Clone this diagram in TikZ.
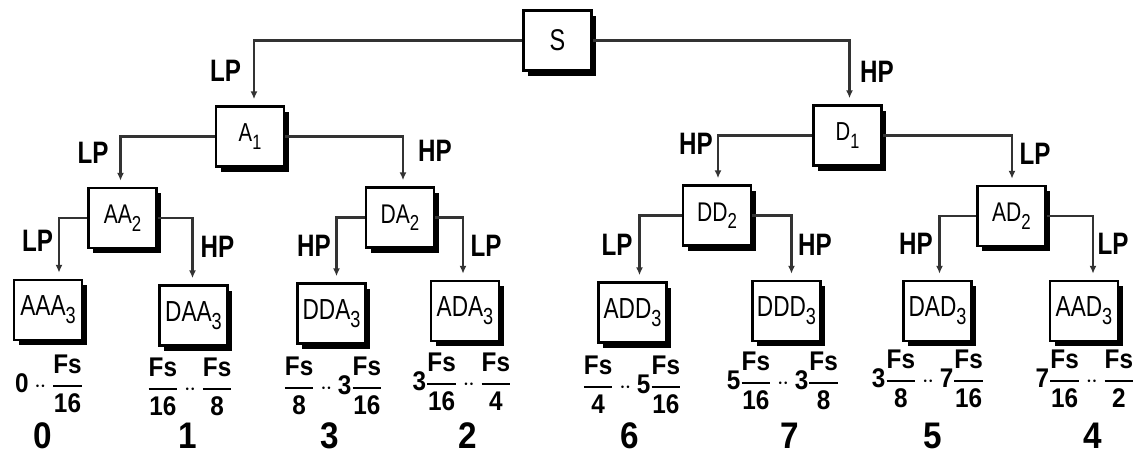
\documentclass[tikz,border=0pt]{standalone}
\usepackage{fontspec}
\usepackage{amsmath}
\usepackage{graphicx}
\setmainfont{Liberation Sans}[FakeStretch=0.78]
\newfontfamily\numfont{Liberation Sans}[FakeStretch=0.9]
\usetikzlibrary{arrows.meta,shadows}
\newcommand\fsf[1]{\genfrac{}{}{1.7pt}{0}{\text{Fs}\rule[-6pt]{0pt}{6pt}}{\text{#1}\rule{0pt}{21pt}}}
\newcommand\ddt{\mathbin{\cdot\mkern-1mu\cdot}}
\newcommand\tx[1]{\text{#1}}
\newcommand\sbs[1]{\raisebox{-0.28em}{\scalebox{0.8}{#1}}}
\begin{document}
\begin{tikzpicture}[x=1pt,y=-1pt,
  box/.style={draw=black,line width=2.5pt,fill=white,minimum width=68pt,minimum height=60pt,inner sep=0pt,
    drop shadow={shadow xshift=4.5pt,shadow yshift=-5pt,opacity=1,fill=black}},
  conn/.style={draw=black!80,line width=2.5pt,-{Latex[length=8pt,width=7pt]}},
  pl/.style={font=\bfseries\fontsize{31}{31}\selectfont},
  fr/.style={font=\numfont\bfseries\fontsize{27}{27}\selectfont,anchor=base,inner sep=0pt},
  num/.style={font=\numfont\bfseries\fontsize{37}{37}\selectfont},
  l0/.style={font=\fontsize{30}{30}\selectfont},
  l1/.style={font=\fontsize{26}{26}\selectfont},
  l2/.style={font=\fontsize{27}{27}\selectfont},
  l3/.style={font=\fontsize{29}{29}\selectfont}]
\useasboundingbox (0,0) rectangle (1133,456);

% boxes
\node[box,l0] (S)   at (557.5,40.5) {S};
\node[box,l1] (A1)  at (250,136.5) {A\sbs{1}};
\node[box,l1] (D1)  at (847.5,135.5) {D\sbs{1}};
\node[box,l2] (AA2) at (122.5,218) {AA\sbs{2}};
\node[box,l2] (DA2) at (400,217.5) {DA\sbs{2}};
\node[box,l2] (DD2) at (717,215.5) {DD\sbs{2}};
\node[box,l2] (AD2) at (1011.5,216) {AD\sbs{2}};
\node[box,l3] (AAA3) at (48,310) {AAA\sbs{3}};
\node[box,l3] (DAA3) at (193.5,315.5) {DAA\sbs{3}};
\node[box,l3] (DDA3) at (331.5,313.5) {DDA\sbs{3}};
\node[box,l3] (ADA3) at (465,311) {ADA\sbs{3}};
\node[box,l3] (ADD3) at (632.5,312.5) {ADD\sbs{3}};
\node[box,l3] (DDD3) at (786.5,311) {DDD\sbs{3}};
\node[box,l3] (DAD3) at (937.5,311) {DAD\sbs{3}};
\node[box,l3] (AAD3) at (1084,311) {AAD\sbs{3}};

% connectors
\draw[conn] (S.west) -| ([xshift=4pt,yshift=6pt]A1.north);
\draw[conn] (S.east) -| ([xshift=2pt,yshift=6pt]D1.north);
\draw[conn] (A1.west) -| ([xshift=-2pt,yshift=6pt]AA2.north);
\draw[conn] (A1.east) -| ([xshift=3pt,yshift=6pt]DA2.north);
\draw[conn] (D1.west) -| ([xshift=1pt,yshift=6pt]DD2.north);
\draw[conn] (D1.east) -| ([xshift=0.5pt,yshift=6pt]AD2.north);
\draw[conn] (AA2.west) -| ([xshift=11pt,yshift=6pt]AAA3.north);
\draw[conn] (AA2.east) -| ([xshift=-1pt,yshift=6pt]DAA3.north);
\draw[conn] (DA2.west) -| ([xshift=5pt,yshift=6pt]DDA3.north);
\draw[conn] (DA2.east) -| ([xshift=-2pt,yshift=6pt]ADA3.north);
\draw[conn] (DD2.west) -| ([xshift=7pt,yshift=6pt]ADD3.north);
\draw[conn] (DD2.east) -| ([xshift=5pt,yshift=6pt]DDD3.north);
\draw[conn] (AD2.west) -| ([xshift=2pt,yshift=6pt]DAD3.north);
\draw[conn] (AD2.east) -| ([xshift=9pt,yshift=6pt]AAD3.north);

% LP / HP labels
\node[pl] (t1) at (225.5,71) {LP};
\node[pl] (t2) at (877,72) {HP};
\node[pl] (t3) at (93,153) {LP};
\node[pl] (t4) at (435,151) {HP};
\node[pl] (t5) at (696,144) {HP};
\node[pl] (t6) at (1035,154) {LP};
\node[pl] (t7) at (37.5,241) {LP};
\node[pl] (t8) at (217.5,247) {HP};
\node[pl] (t9) at (314,246) {HP};
\node[pl] (t10) at (486,246) {LP};
\node[pl] (t11) at (617,245) {LP};
\node[pl] (t12) at (815,245) {HP};
\node[pl] (t13) at (916,244) {HP};
\node[pl] (t14) at (1113,244) {LP};

% frequency ranges (anchored on the baseline, bar about 7pt above it)
\node[fr] (f1) at (49,392) {$\tx{0}\ddt\fsf{16}$};
\node[fr] (f2) at (190,395) {$\fsf{16}\ddt\fsf{8}$};
\node[fr] (f3) at (333,394) {$\fsf{8}\ddt\tx{3}\fsf{16}$};
\node[fr] (f4) at (462,390) {$\tx{3}\fsf{16}\ddt\fsf{4}$};
\node[fr] (f5) at (632,393) {$\fsf{4}\ddt\tx{5}\fsf{16}$};
\node[fr] (f6) at (783,389) {$\tx{5}\fsf{16}\ddt\tx{3}\fsf{8}$};
\node[fr] (f7) at (928,387) {$\tx{3}\fsf{8}\ddt\tx{7}\fsf{16}$};
\node[fr] (f8) at (1085,387) {$\tx{7}\fsf{16}\ddt\fsf{2}$};

% band numbers
\node[num] (n1) at (43,436) {0};
\node[num] (n2) at (188,436) {1};
\node[num] (n3) at (330,436) {3};
\node[num] (n4) at (468,436) {2};
\node[num] (n5) at (630,436) {6};
\node[num] (n6) at (790,436) {7};
\node[num] (n7) at (933,436) {5};
\node[num] (n8) at (1093,436) {4};
\end{tikzpicture}
\end{document}
